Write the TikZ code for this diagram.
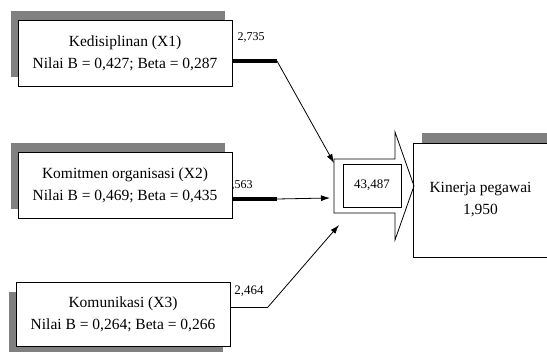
\documentclass[tikz,border=0pt]{standalone}
\usepackage{fontspec}
\setmainfont{Liberation Serif}
\usetikzlibrary{arrows.meta,shadows}
\definecolor{shadegray}{RGB}{128,128,128}

\begin{document}
\begin{tikzpicture}[x=1pt, y=-1pt,
    box/.style={rectangle, draw, line width=0.8pt, fill=white, align=center, inner sep=0pt, minimum width=214pt, minimum height=66pt, font=\fontsize{15.5}{22}\selectfont},
    shadeul/.style={drop shadow={shadow xshift=-7pt, shadow yshift=9pt, fill=shadegray, opacity=1}},
    shadedl/.style={drop shadow={shadow xshift=-7pt, shadow yshift=-10pt, fill=shadegray, opacity=1}},
    shadeur/.style={drop shadow={shadow xshift=9pt, shadow yshift=10pt, fill=shadegray, opacity=1}},
    val/.style={inner sep=0pt, font=\fontsize{12}{14}\selectfont},
    bar/.style={line width=3.5pt},
    arrow/.style={-{Latex[length=9pt, width=6pt]}, line width=0.8pt}
]
    \useasboundingbox (0,0) rectangle (547,352);

    % Nodes
    \node[box, shadeul] (disiplin) at (125,53.5) {Kedisiplinan (X1)\\Nilai B = 0,427; Beta = 0,287};
    \node[box, shadeul] (komitmen) at (125,185) {Komitmen organisasi (X2)\\Nilai B = 0,469; Beta = 0,435};
    \node[box, shadedl, minimum height=64pt] (komunikasi) at (123,314.5) {Komunikasi (X3)\\Nilai B = 0,264; Beta = 0,266};
    \node[box, shadeur, minimum width=135pt, minimum height=114pt] (kinerja) at (480.5,200) {Kinerja pegawai\\1,950};

    % Big arrow
    \draw[line width=0.8pt] (334,159) -- (395,159) -- (395,132) -- (414,186) -- (395,240) -- (395,213) -- (334,213) -- cycle;
    \node[draw, line width=0.8pt, minimum width=58pt, minimum height=43pt, inner sep=0pt, font=\fontsize{13}{15}\selectfont] (total) at (372,185.5) {43,487};

    % Values
    \node[val] (t1) at (251,37) {2,735};
    \node[val] (t2) at (242,185) {,563};
    \node[val, font=\fontsize{13}{15}\selectfont] (t3) at (249,291) {2,464};

    % Arrows
    \coordinate (b1) at (277,61);
    \coordinate (b2) at (277,199);
    \coordinate (b3) at (268,307);
    \coordinate (in1) at (334,163);
    \coordinate (in2) at (330,198);
    \coordinate (in3) at (339,225);
    \draw[bar] (disiplin.east |- b1) -- (b1);
    \draw[arrow] (b1) -- (in1);
    \draw[bar] (komitmen.east |- b2) -- (b2);
    \draw[arrow] (b2) -- (in2);
    \draw[line width=0.8pt] (komunikasi.east |- b3) -- (b3);
    \draw[arrow] (b3) -- (in3);
\end{tikzpicture}
\end{document}
